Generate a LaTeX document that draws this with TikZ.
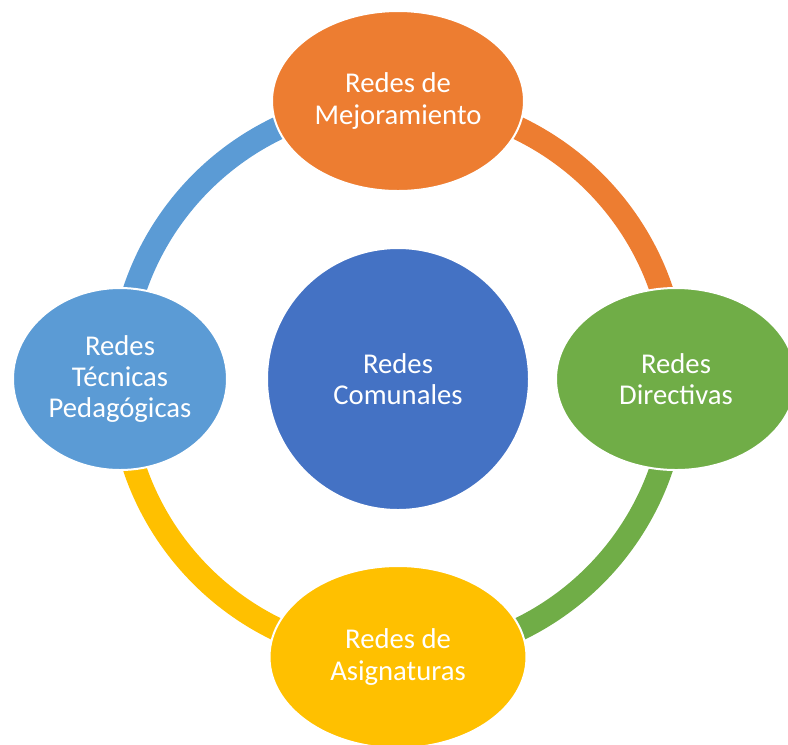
\documentclass[tikz,border=0pt]{standalone}
\usepackage{fontspec}
\setmainfont{Carlito}
\usepackage{tikz}
\usetikzlibrary{shapes.geometric}
\usetikzlibrary{backgrounds}
\definecolor{naranja}{RGB}{237,125,49}
\definecolor{verde}{RGB}{112,173,71}
\definecolor{amarillo}{RGB}{255,192,0}
\definecolor{celeste}{RGB}{91,155,213}
\definecolor{azul}{RGB}{68,114,196}

\begin{document}
\begin{tikzpicture}[x=0.75pt,y=0.75pt,yscale=-1,xscale=1,
        redes/.style={ellipse,draw=white,line width=1.5pt,inner sep=0pt,text=white,align=center,font=\fontsize{21.5pt}{23.5pt}\selectfont},
        anillo/.style={line width=17.5pt}]
            \useasboundingbox (0,0) rectangle (788,744); %diagram area

            %Shape: Circle [id:comunales]
            \node [redes,fill=azul,minimum size=196.5pt] (comunales) at (398,379) {Redes\\Comunales};
            %Shape: Ellipse [id:mejora]
            \node [redes,fill=naranja,minimum width=189pt,minimum height=135pt] (mejora) at (398,101) {Redes de\\Mejoramiento};
            %Shape: Ellipse [id:directivas]
            \node [redes,fill=verde,minimum width=180pt,minimum height=136.5pt] (directivas) at (676,379) {Redes\\Directivas};
            %Shape: Ellipse [id:asignaturas]
            \node [redes,fill=amarillo,minimum width=192.75pt,minimum height=136.5pt] (asignaturas) at (398,657) {Redes de\\Asignaturas};
            %Shape: Ellipse [id:tecnicas]
            \node [redes,fill=celeste,minimum width=160.5pt,minimum height=136.5pt] (tecnicas) at (120,379) {Redes\\Técnicas\\Pedagógicas};

            %Shape: Arc ring behind the ellipses
            \begin{pgfonlayer}{background}
            \draw [anillo,draw=naranja] (mejora.center) arc [start angle=-90,end angle=0,radius=278];
            \draw [anillo,draw=verde] (directivas.center) arc [start angle=0,end angle=90,radius=278];
            \draw [anillo,draw=amarillo] (asignaturas.center) arc [start angle=90,end angle=180,radius=278];
            \draw [anillo,draw=celeste] (tecnicas.center) arc [start angle=180,end angle=270,radius=278];
            \end{pgfonlayer}

        \end{tikzpicture}
\end{document}
